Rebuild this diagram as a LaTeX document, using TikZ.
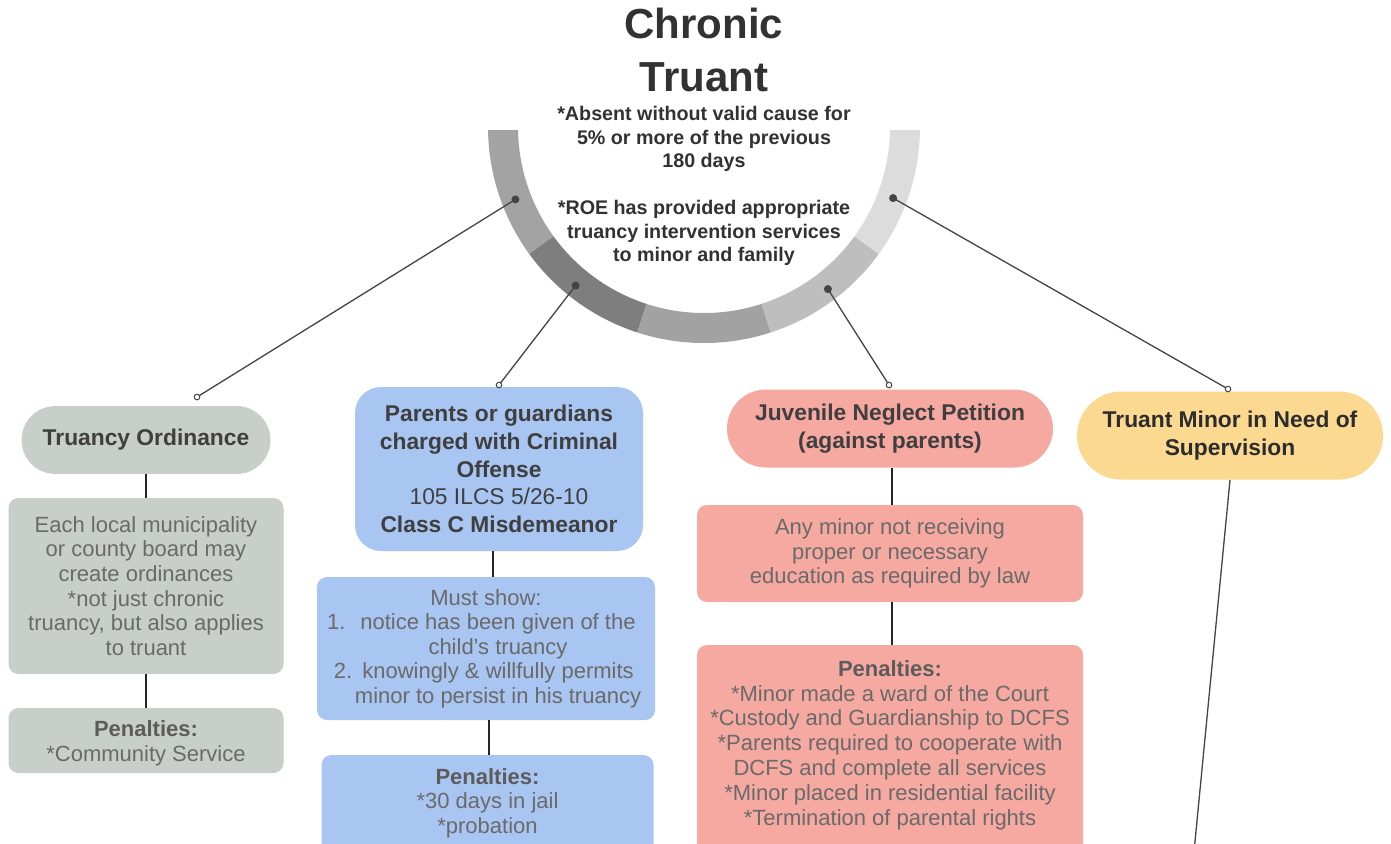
\documentclass[tikz,border=0pt]{standalone}
\usepackage{fontspec}
\setmainfont{Liberation Sans}
\usetikzlibrary{calc}
\definecolor{grayc}{HTML}{C8CEC9}
\definecolor{bluec}{HTML}{A9C5F1}
\definecolor{salmc}{HTML}{F5A9A0}
\definecolor{yelc}{HTML}{FCD990}
\definecolor{headc}{HTML}{3F3F3F}
\definecolor{txtc}{HTML}{6A6A6A}
\definecolor{ringa}{HTML}{A3A3A3}
\definecolor{ringb}{HTML}{7E7E7E}
\definecolor{ringc}{HTML}{A2A2A2}
\definecolor{ringd}{HTML}{BEBEBE}
\definecolor{ringe}{HTML}{DCDCDC}
\definecolor{linec}{HTML}{444444}
\newcommand\myttl{\fontsize{21}{26.5}\selectfont\bfseries}
\newcommand\mysub{\fontsize{9.85}{11.75}\selectfont\bfseries}
\newcommand\myhd{\fontsize{11.4}{13.9}\selectfont\bfseries}
\newcommand\mytx{\fontsize{11}{12.3}\selectfont}
\newcommand\mytxb{\fontsize{11}{12.4}\selectfont}
\newcommand\pen{\textcolor{headc!85!white}{\bfseries Penalties:}}
\tikzset{
  hdbox/.style={align=center, inner sep=0pt, font=\myhd, text=headc},
  txbox/.style={align=center, inner sep=0pt, font=\mytx, text=txtc, rounded corners=5pt},
  conn/.style={draw=linec, line width=0.65pt},
  vconn/.style={draw=black!85, line width=0.8pt},
  enddot/.style={fill=linec},
  endring/.style={draw=linec, fill=white, line width=0.5pt}
}
\begin{document}
\begin{tikzpicture}[x=0.5pt,y=-0.5pt]
\useasboundingbox (0,0) rectangle (1391,843);
\clip (0,0) rectangle (1391,843);
\fill[white] (0,0) rectangle (1391,843);
% ring
\coordinate (c) at (704,127);
\foreach \a/\b/\col in {180/216/ringa,216/252/ringb,252/288/ringc,288/324/ringd,324/360/ringe}{
  \fill[\col] ([shift={(c)}]\a:108pt) arc[start angle=\a,end angle=\b,radius=108pt]
     -- ([shift={(c)}]\b:93pt) arc[start angle=\b,end angle=\a,radius=93pt] -- cycle;
}
\fill[white] (470,100) rectangle (940,129.5);
% title
\node[font=\myttl, text=headc!80!black, align=center, inner sep=0pt] (title) at (704,50) {Chronic\\Truant};
\node[font=\mysub, text=headc!80!black, align=center, inner sep=0pt] (sub) at (704,186) {*Absent without valid cause for\\5\% or more of the previous\\180 days\\[11.75pt]*ROE has provided appropriate\\truancy intervention services\\to minor and family};
% ring points
\coordinate (d1) at ([shift={(c)}]201:101pt);
\coordinate (d2) at ([shift={(c)}]231:102pt);
\coordinate (d3) at ([shift={(c)}]307.4:102pt);
\coordinate (d4) at ([shift={(c)}]339.4:101pt);
\coordinate (e1) at (197,397);
\coordinate (e2) at (499,385);
\coordinate (e3) at (889,385);
\coordinate (e4) at (1228,389);
% column 1
\node[hdbox, fill=grayc, minimum width=124.5pt, minimum height=34pt, rounded corners=17pt] (ord) at (146,440) {Truancy Ordinance};
\node[txbox, fill=grayc, minimum width=137.5pt, minimum height=88pt] (ordtx) at (146,586) {Each local municipality\\or county board may\\create ordinances\\*not just chronic\\truancy, but also applies\\to truant};
\node[txbox, fill=grayc, minimum width=137.5pt, minimum height=32.5pt] (ordpen) at (146,740.5) {};
\node[txbox, inner sep=0pt] (ordpentx) at (146,743) {\pen\\*Community Service};
% column 2
\node[hdbox, fill=bluec, minimum width=144pt, minimum height=82pt, rounded corners=13pt] (par) at (499,469) {Parents or guardians\\charged with Criminal\\Offense\\{\mdseries 105 ILCS 5/26-10}\\Class C Misdemeanor};
\node[txbox, fill=bluec, minimum width=169pt, minimum height=71.5pt] (must) at (486,648.5) {Must show:\\\hspace*{12pt}\llap{1.\hspace{7.5pt}}notice has been given of the\\\hspace*{12pt}child's truancy\\\hspace*{12pt}\llap{2.\hspace{5pt}}knowingly \& willfully permits\\\hspace*{12pt}minor to persist in his truancy};
\node[txbox, fill=bluec, minimum width=166pt, minimum height=57.5pt] (ppen) at (487.5,812.5) {};
\node[txbox, inner sep=0pt] (ppentx) at (487.5,803) {\pen\\*30 days in jail\\*probation};
% column 3
\node[hdbox, fill=salmc, minimum width=163pt, minimum height=39pt, rounded corners=19.5pt] (juv) at (890,428.5) {Juvenile Neglect Petition\\(against parents)};
\node[txbox, fill=salmc, minimum width=193pt, minimum height=48.5pt] (anym) at (890,553.5) {Any minor not receiving\\proper or necessary\\education as required by law};
\node[txbox, fill=salmc, minimum width=193pt, minimum height=112.5pt] (jpen) at (890,757.5) {};
\node[txbox, font=\mytxb, inner sep=0pt] (jpentx) at (890,745) {\pen\\*Minor made a ward of the Court\\*Custody and Guardianship to DCFS\\*Parents required to cooperate with\\DCFS and complete all services\\*Minor placed in residential facility\\*Termination of parental rights};
% column 4
\node[hdbox, fill=yelc, text=headc!70!black, minimum width=153pt, minimum height=44pt, rounded corners=22pt] (tmin) at (1230,435.5) {Truant Minor in Need of\\Supervision};
\coordinate (bot) at (1193,862);
% vertical connectors
\draw[vconn] (ordtx.north |- ord.south) -- (ordtx.north);
\draw[vconn] (ordtx.south) -- (ordtx.south |- ordpen.north);
\draw[vconn] ([xshift=-3pt]par.south) -- ([xshift=-3pt]par.south |- must.north);
\draw[vconn] ([xshift=1.5pt]must.south) -- ([xshift=1.5pt]must.south |- ppen.north);
\draw[vconn] ([xshift=1pt]juv.south) -- ([xshift=1pt]juv.south |- anym.north);
\draw[vconn] ([xshift=1pt]anym.south) -- ([xshift=1pt]anym.south |- jpen.north);
\draw[conn] (tmin.south) -- (bot);
% ring connectors
\foreach \i in {1,2,3,4}{
  \draw[conn] (d\i) -- (e\i);
  \fill[enddot] (d\i) circle (2pt);
  \draw[endring] (e\i) circle (1.4pt);
}
\end{tikzpicture}
\end{document}
